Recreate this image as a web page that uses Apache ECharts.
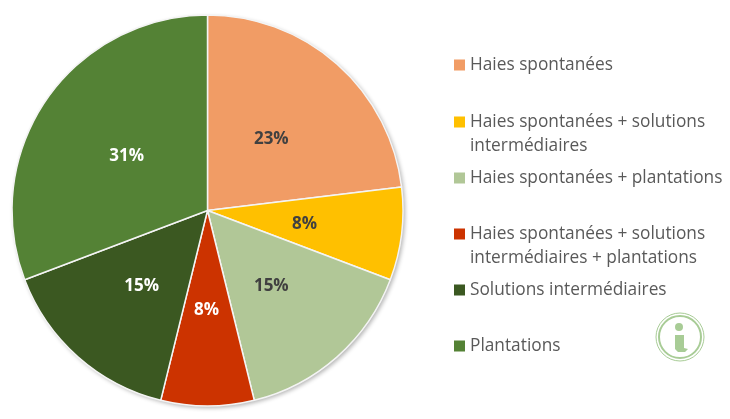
<!DOCTYPE html>
<html>
<head>
<meta charset="utf-8">
<title>Haies</title>
<script src="https://cdn.jsdelivr.net/npm/echarts@6/dist/echarts.min.js"></script>
<style>
  html, body { margin: 0; padding: 0; background: #fff; }
  #chart { width: 730px; height: 419px; }
</style>
</head>
<body>
<div id="chart"></div>
<script>
var categories = [
  'Haies spontanées',
  'Haies spontanées + solutions\nintermédiaires',
  'Haies spontanées + plantations',
  'Haies spontanées + solutions\nintermédiaires + plantations',
  'Solutions intermédiaires',
  'Plantations'
];
// slice sizes are counts out of 13, the labels show the rounded share
var counts = [3, 1, 2, 1, 2, 4];
var colors = ['#f19c65', '#ffc000', '#b1c797', '#cc3300', '#3b5821', '#548235'];
var labelColors = ['#404040', '#404040', '#404040', '#ffffff', '#ffffff', '#ffffff'];

var fontName = '"Open Sans", sans-serif';
var iconGreen = '#a8cc96';

var myChart = echarts.init(document.getElementById('chart'), null, { renderer: 'canvas' });

// one legend per entry, the rows are not evenly filled
var legendTops = [53, 110, 166, 222, 278, 334];
var legends = categories.map(function (name, i) {
  var twoLines = name.indexOf('\n') > -1;
  return {
    left: 454,
    top: legendTops[i],
    orient: 'vertical',
    data: [name],
    selectedMode: false,
    itemWidth: 11,
    itemHeight: twoLines ? 35 : 20,
    itemGap: 0,
    padding: 0,
    itemStyle: { borderWidth: 0 },
    // square sits on the first text line, the empty bit keeps the height
    icon: twoLines ? 'path://M0 0H11V11H0Z M0 35H11V35H0Z' : 'path://M0 4.5H11V15.5H0Z M0 0H11V0H0Z M0 20H11V20H0Z',
    textStyle: {
      color: '#595959',
      fontFamily: fontName,
      fontSize: 17.3,
      lineHeight: 24
    }
  };
});

// small shifts so the percentages sit where they do in the original
var labelShiftX = [-3, -3, -3, -1, 1, 2];
var labelShiftY = [4, 2, 0, -1, 0, 3];

var option = {
  animation: false,
  backgroundColor: '#ffffff',
  legend: legends,
  graphic: [
    {
      type: 'circle',
      z: -1,
      silent: true,
      shape: { cx: 207.5, cy: 210.5, r: 195.5 },
      style: { fill: '#fff', shadowBlur: 4, shadowOffsetX: 2, shadowOffsetY: 2, shadowColor: 'rgba(0,0,0,0.3)' }
    },
    {
      type: 'group',
      silent: true,
      children: [
        { type: 'circle', shape: { cx: 680, cy: 337, r: 24 }, style: { fill: 'none', stroke: iconGreen, lineWidth: 1 } },
        { type: 'circle', shape: { cx: 680, cy: 337, r: 21 }, style: { fill: 'none', stroke: iconGreen, lineWidth: 2 } },
        { type: 'circle', shape: { cx: 679, cy: 327, r: 4 }, style: { fill: iconGreen } },
        { type: 'polygon', shape: { points: [[675, 335], [684, 335], [684, 348], [688, 349], [685, 352], [678, 352], [675, 349]] }, style: { fill: iconGreen } }
      ]
    }
  ],
  series: [
    {
      type: 'pie',
      center: [207.5, 210.5],
      radius: [0, 195.5],
      startAngle: 90,
      clockwise: true,
      percentPrecision: 0,
      itemStyle: { borderColor: '#f4f4f4', borderWidth: 1.5 },
      label: {
        position: 'inside',
        formatter: '{d}%',
        fontFamily: fontName,
        fontSize: 17,
        fontWeight: 'bold'
      },
      labelLine: { show: false },
      labelLayout: function (params) {
        return { dx: labelShiftX[params.dataIndex], dy: labelShiftY[params.dataIndex] };
      },
      emphasis: { disabled: true },
      data: categories.map(function (name, i) {
        return {
          name: name,
          value: counts[i],
          itemStyle: { color: colors[i] },
          label: { color: labelColors[i] }
        };
      })
    }
  ]
};

myChart.setOption(option);
</script>
</body>
</html>
